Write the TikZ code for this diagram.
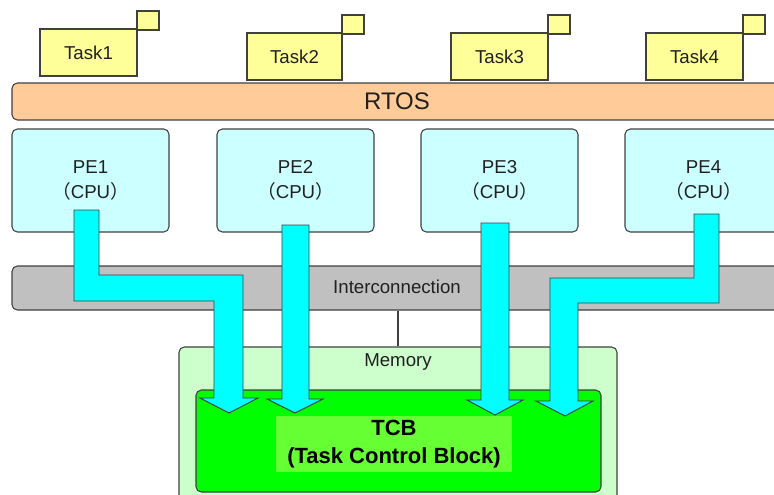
\documentclass[tikz,border=0pt]{standalone}
\usepackage{fontspec}
\setmainfont{Liberation Sans}
\newfontfamily\cjk{Noto Sans CJK JP}
\usetikzlibrary{fit}

\definecolor{taskfill}{HTML}{FFFF99}
\definecolor{rtosfill}{HTML}{FFCC99}
\definecolor{pefill}{HTML}{CCFFFF}
\definecolor{icfill}{HTML}{C0C0C0}
\definecolor{memfill}{HTML}{CCFFCC}
\definecolor{tcbfill}{HTML}{00FF00}
\definecolor{tcbinner}{HTML}{66FF33}
\definecolor{busfill}{HTML}{00FFFF}
\definecolor{edge}{HTML}{404040}
\definecolor{ink}{HTML}{202020}

\newcommand{\lbl}{\fontsize{14}{18.75}\selectfont}
\newcommand{\cpu}{{\cjk （}CPU{\cjk ）}}

\tikzset{
  box/.style={draw=edge, line width=0.8pt, inner sep=0pt},
  taskbox/.style={box, fill=taskfill},
  taskflag/.style={box, fill=taskfill},
  rtosbar/.style={box, fill=rtosfill, rounded corners=4pt},
  pebox/.style={box, fill=pefill, rounded corners=4pt},
  icbar/.style={box, fill=icfill, rounded corners=4pt},
  membox/.style={box, fill=memfill, rounded corners=4pt},
  tcbbox/.style={box, fill=tcbfill, rounded corners=4pt},
  tcbtext/.style={fill=tcbinner, inner sep=0pt, font=\fontsize{16.5}{21}\selectfont\bfseries, align=center},
  txt/.style={font=\lbl, text=ink, align=center},
  fatarrow/.style={draw=edge, line width=0.7pt, fill=busfill, line join=miter},
  link/.style={draw=edge, line width=0.8pt}
}

\begin{document}
\begin{tikzpicture}[x=0.75pt, y=-0.75pt]
\useasboundingbox (0,0) rectangle (774,494);

% tasks with their small flag squares
\foreach \n/\xa/\xb/\ya in {1/40/137/29, 2/247/342/33, 3/451/548/33, 4/646/743/33}{
  \node[taskflag, fit={(\xb,\ya-18) (\xb+22,\ya+1)}] (flag\n) {};
  \node[taskbox, fit={(\xa,\ya) (\xb,\ya+47)}] (task\n) {};
  \node[txt] at (task\n.center) {Task\n};
}

% RTOS layer
\node[rtosbar, fit={(12,83) (800,120)}] (rtos) {};
\node[txt, font=\fontsize{18}{20}\selectfont] at (397,101) {RTOS};

% processing elements
\foreach \n/\xa in {1/12, 2/217, 3/421, 4/625}{
  \node[pebox, fit={(\xa,129) (\xa+157,232)}] (pe\n) {};
  \node[txt] at (pe\n.center) {PE\n\\\cpu};
}

% interconnection bus
\node[icbar, fit={(12,266) (790,310)}] (ic) {};
\node[txt] at (397,287) {Interconnection};

% memory and task control block
\node[membox, fit={(179,347) (617,510)}] (mem) {};
\node[txt] at (398,362) {Memory};
\draw[link] (mem.north) -- (mem.north |- ic.south);

\node[tcbbox, fit={(196,390) (601,492)}] (tcb) {};
\node[tcbtext, minimum width=177pt, minimum height=42pt] (tcbt) at (394,444) {TCB\\(Task Control Block)};

% data paths from each PE into the TCB
\draw[fatarrow] (74,210) -- (99,210) -- (99,275) -- (243,275) -- (243,398) -- (258,398)
  -- (229,413) -- (200,398) -- (214,398) -- (214,301) -- (74,301) -- cycle;
\draw[fatarrow] (282,225) -- (309,225) -- (309,399) -- (323,399) -- (295,413)
  -- (267,399) -- (282,399) -- cycle;
\draw[fatarrow] (481,223) -- (509,223) -- (509,400) -- (523,400) -- (495,415)
  -- (467,400) -- (481,400) -- cycle;
\draw[fatarrow] (694,214) -- (719,214) -- (719,303) -- (578,303) -- (578,401) -- (593,401)
  -- (565,416) -- (536,401) -- (550,401) -- (550,278) -- (694,278) -- cycle;
\end{tikzpicture}
\end{document}
